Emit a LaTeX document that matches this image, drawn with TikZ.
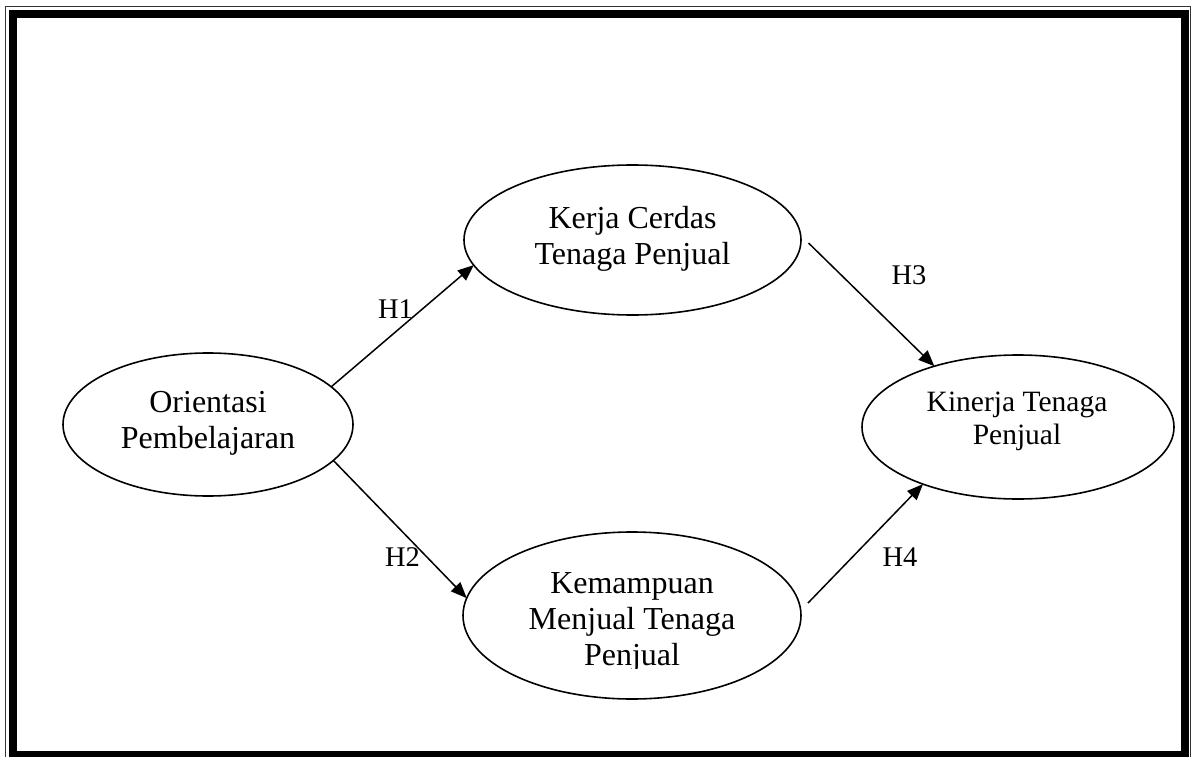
\documentclass[tikz,border=0pt]{standalone}
\usepackage{fontspec}
\setmainfont{Liberation Serif}
\usetikzlibrary{arrows.meta,shapes.geometric}
\begin{document}
\begin{tikzpicture}[x=1pt,y=-1pt,
  var/.style={draw,ellipse,line width=1.6pt,inner sep=0pt,outer sep=0pt},
  txt/.style={align=center,inner sep=0pt,font=\fontsize{32}{36}\selectfont},
  smalltxt/.style={align=center,inner sep=0pt,font=\fontsize{29.5}{33}\selectfont},
  hyp/.style={inner sep=0pt,font=\fontsize{28.5}{32}\selectfont},
  arr/.style={line width=1.5pt,-{Triangle[length=16pt,width=13pt]}}]
\useasboundingbox (0,0) rectangle (1191,757);
\fill[white] (0,0) rectangle (1191,757);
% double frame
\draw[line width=1pt,black!80] (5.5,6.5) rectangle (1190,770);
\draw[line width=8pt] (13,14) rectangle (1184.5,755);

% latent variables
\node[var,minimum width=290,minimum height=143] (op) at (208,424.5) {};
\node[var,minimum width=337,minimum height=150] (kc) at (632.5,240) {};
\node[var,minimum width=338,minimum height=167] (km) at (632,615.5) {};
\node[var,minimum width=312,minimum height=144] (kn) at (1018,427) {};

% labels
\node[txt] (opt) at (208,423) {Orientasi\\Pembelajaran};
\node[txt] (kct) at (632.5,239) {Kerja Cerdas\\Tenaga Penjual};
\begin{scope}
  \clip (440,520) rectangle (820,668);
  \node[txt] (kmt) at (632,622) {Kemampuan\\Menjual Tenaga\\Penjual};
\end{scope}
\node[smalltxt] (knt) at (1017,421) {Kinerja Tenaga\\Penjual};

% hypotheses
\draw[arr] (op.17.7) -- (kc.189.6);
\draw[arr] (op.-16.6) -- (km.174.1);
\draw[arr] ([shift={(7.5,3)}]kc.east) -- (kn.144.5);
\draw[arr] ([shift={(7,-12.5)}]km.east) -- (kn.211.6);

\node[hyp] (h1) at (395.5,309.5) {H1};
\node[hyp] (h2) at (402.5,557) {H2};
\node[hyp] (h3) at (909,275) {H3};
\node[hyp] (h4) at (900,557) {H4};
\end{tikzpicture}
\end{document}
